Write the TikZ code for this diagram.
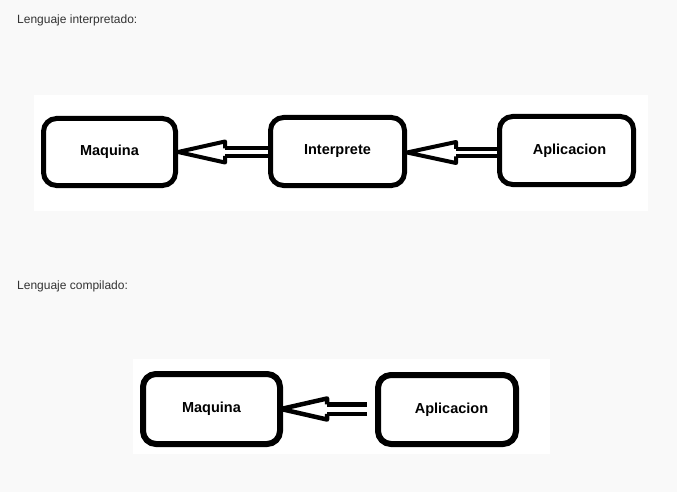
\documentclass[tikz,border=0pt]{standalone}
\usepackage{fontspec}
\setmainfont{Liberation Sans}
\usetikzlibrary{calc}
\definecolor{fondo}{HTML}{F9F9F9}
\definecolor{texto}{HTML}{333333}

\begin{document}
\begin{tikzpicture}[x=1pt,y=-1pt,
     caja/.style={draw, line width=5pt, rounded corners=13pt, inner sep=0pt,
       font=\bfseries\fontsize{14.5}{16}\selectfont},
     titulo/.style={anchor=base west, inner sep=0pt, text=texto, font=\fontsize{12}{14}\selectfont},
     cuerpo/.style={draw=black, double=white, line width=4pt, double distance=3.5pt},
     punta/.style={draw, line width=4pt, line join=round, line cap=square}]
    \useasboundingbox[fill=fondo] (0,0) rectangle (677,492);
    \fill[white] (34,95) rectangle (648,211);
    \fill[white] (133,359) rectangle (550,454);
    \node[titulo] (t1) at (17,23.5) {Lenguaje interpretado:};
    \node[titulo] (t2) at (17,289) {Lenguaje compilado:};
    % interpretado
    \node[caja, minimum width=132pt, minimum height=67pt] (maq1) at (109.5,152) {Maquina};
    \node[caja, minimum width=134pt, minimum height=68pt] (inter) at (337.5,151.5) {Interprete};
    \node[caja, minimum width=134pt, minimum height=68pt] (apl1) at (566.5,150.5) {\hspace*{6pt}Aplicacion};
    \coordinate (b1) at ($(maq1.east)+(47,0)$);
    \draw[cuerpo] (inter.west |- b1) -- (b1);
    \draw[punta] ($(b1)+(0,-3.75)$) -- ++(0,-6.75) -- (maq1.east) -- ($(b1)+(0,10.5)$) -- ++(0,-6.75);
    \coordinate (b2) at ($(inter.east)+(49,1)$);
    \draw[cuerpo] (apl1.west |- b2) -- (b2);
    \draw[punta] ($(b2)+(0,-3.75)$) -- ++(0,-6.75) -- ($(inter.east)+(0,1)$) -- ($(b2)+(0,10.5)$) -- ++(0,-6.75);
    % compilado
    \node[caja, line width=6pt, minimum width=137pt, minimum height=70pt] (maq2) at (211.5,409) {Maquina};
    \node[caja, line width=6pt, minimum width=138pt, minimum height=69pt] (apl2) at (447,409.5) {\hspace*{9pt}Aplicacion};
    \coordinate (b3) at ($(maq2.east)+(44,0)$);
    \draw[cuerpo, line width=4.5pt, double distance=5pt, shorten <=8pt] (apl2.west |- b3) -- (b3);
    \draw[punta, line width=4.5pt] ($(b3)+(0,-4.75)$) -- ++(0,-5.75) -- ($(maq2.east)+(-2,0)$) -- ($(b3)+(0,10.5)$) -- ++(0,-5.75);
\end{tikzpicture}
\end{document}
